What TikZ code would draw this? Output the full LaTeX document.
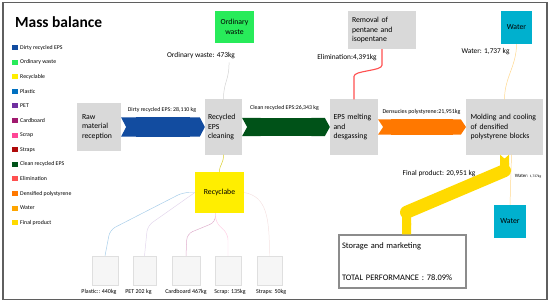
\documentclass[tikz,border=0pt]{standalone}
\usepackage{fontspec}
\setmainfont{Carlito}
\usetikzlibrary{arrows.meta,positioning,calc}
\definecolor{boxgray}{RGB}{217,217,217}
\definecolor{framegray}{RGB}{95,95,95}
\definecolor{dirty}{RGB}{18,76,160}
\definecolor{ordinary}{RGB}{40,235,90}
\definecolor{recycl}{RGB}{255,238,0}
\definecolor{plastic}{RGB}{0,112,192}
\definecolor{pet}{RGB}{112,48,160}
\definecolor{cardboard}{RGB}{160,25,110}
\definecolor{scrap}{RGB}{255,70,150}
\definecolor{straps}{RGB}{175,10,10}
\definecolor{cleaneps}{RGB}{0,82,24}
\definecolor{elim}{RGB}{255,80,80}
\definecolor{dense}{RGB}{255,120,0}
\definecolor{water}{RGB}{255,165,0}
\definecolor{final}{RGB}{255,218,0}
\definecolor{cyanbox}{RGB}{0,176,206}
\tikzset{
  headline/.style={font=\fontsize{22}{26}\selectfont\bfseries,inner sep=0pt},
  legkey/.style={fill=#1,minimum width=3mm,minimum height=2.5mm,inner sep=0pt},
  legtext/.style={font=\fontsize{8.3}{10}\selectfont,inner sep=0pt},
  stage/.style={fill=boxgray,text width=#1,inner xsep=2.5mm,minimum height=27.5mm,
    align=left,font=\fontsize{11}{13.5}\selectfont},
  colbox/.style={fill=#1,minimum width=15.5mm,minimum height=16.5mm,align=center,
    font=\fontsize{11}{13.5}\selectfont},
  sbox/.style={fill=gray!7,draw=gray!25,minimum width=13mm,minimum height=14.5mm},
  flowlab/.style={font=\fontsize{8.3}{10}\selectfont,inner sep=0pt},
  biglab/.style={font=\fontsize{10.5}{12}\selectfont,inner sep=0pt},
  band/.style={draw=#1,line width=9.5mm,
    arrows={Triangle Cap[reversed,length=2.5mm]-Triangle Cap[length=2.5mm]}},
  thinlink/.style={draw=#1,line width=0.7pt,rounded corners=3mm},
  storebox/.style={draw=gray!90,line width=2pt,fill=white,text width=60.5mm,inner xsep=1.5mm,
    minimum height=26.5mm,align=left,font=\fontsize{12}{14.4}\selectfont},
}
\begin{document}
\begin{tikzpicture}[x=0.5mm,y=-0.5mm]
  \useasboundingbox (0,0) rectangle (550,304);
  \draw[framegray,line width=2pt] (3,2.5) rectangle (547,299.5);
  \node[headline,anchor=west] (title) at (15,22) {Mass balance};
  % legend
  \foreach \txt/\col [count=\i] in {Dirty recycled EPS/dirty,Ordinary waste/ordinary,
      Recyclable/recycl,Plastic/plastic,PET/pet,Cardboard/cardboard,Scrap/scrap,Straps/straps,
      Clean recycled EPS/cleaneps,Elimination/elim,Densified polystyrene/dense,Water/water,
      Final product/final}{
    \node[legkey=\col] (k\i) at (14.5,{47.5+14.6*(\i-1)}) {};
    \node[legtext,right=1.2mm of k\i] (t\i) {\txt};
  }
  % process stages
  \node[stage=17mm,minimum height=24mm] (raw) at (99,127) {Raw\\material\\reception};
  \node[stage=15.5mm,inner xsep=1.5mm] (clean) at (223.5,127) {Recycled\\EPS\\cleaning};
  \node[stage=20.5mm,inner xsep=1.75mm] (melt) at (354,127) {EPS\ melting\\and\\desgassing};
  \node[stage=34mm,inner xsep=2.2mm] (mold) at (504.5,127) {Molding and cooling\\of densified\\polystyrene blocks};
  \node[colbox=ordinary,minimum width=19.5mm,minimum height=16mm] (waste) at (234.5,27) {Ordinary\\waste};
  \node[stage=30mm,inner xsep=2mm,minimum height=19mm] (remove) at (382,30) {Removal of\\pentane and\\isopentane};
  \node[colbox=cyanbox] (wtop) at (516.5,27.5) {Water};
  \node[colbox=recycl,minimum width=24.5mm,minimum height=20.5mm] (rec) at (219.5,192.5) {Recyclabe};
  \node[colbox=cyanbox,minimum width=16mm] (wbot) at (510,221.5) {Water};
  \node[storebox] (store) at (402.5,261.5) {Storage and marketing\\[11mm]TOTAL PERFORMANCE : 78.09\%};
  % sorted fractions
  \node[sbox] (plastic) at (105,270.5) {};
  \node[sbox,minimum width=11.5mm] (pet) at (144.5,270.5) {};
  \node[sbox,minimum width=14mm] (card) at (186,270.5) {};
  \node[sbox] (scrap) at (228,270.5) {};
  \node[sbox,minimum width=12.5mm] (straps) at (269.5,270.5) {};
  \node[flowlab,font=\fontsize{8.5}{10}\selectfont,below=2mm of plastic,xshift=-3mm] (lplastic) {Plastic:: 440kg};
  \node[flowlab,font=\fontsize{8.5}{10}\selectfont,below=2mm of pet,xshift=-3mm] (lpet) {PET 202 kg};
  \node[flowlab,font=\fontsize{8.5}{10}\selectfont,below=2mm of card] (lcard) {Cardboard 467kg};
  \node[flowlab,font=\fontsize{8.5}{10}\selectfont,below=2mm of scrap,xshift=1mm] (lscrap) {Scrap: 135kg};
  \node[flowlab,font=\fontsize{8.5}{10}\selectfont,below=2mm of straps,xshift=0.8mm] (lstraps) {Straps: 50kg};
  % flow labels
  \node[flowlab] (ldirty) at (162,110) {Dirty recycled EPS: 28,110 kg};
  \node[flowlab] (lclean) at (284.5,108) {Clean recycled EPS:26,343 kg};
  \node[flowlab,font=\fontsize{8.5}{10}\selectfont] (ldense) at (421.5,112) {Densucies polystyrene:21,951kg};
  \node[biglab] (lwaste) at (201,56) {Ordinary waste: 473kg};
  \node[biglab] (lelim) at (347,58) {Elimination:4,391kg};
  \node[biglab] (lwater) at (485.5,52) {Water: 1,737 kg};
  \node[biglab] (lfinal) at (439,174) {Final product: 20,951 kg};
  \node[flowlab,font=\fontsize{7}{8}\selectfont] (lwater2) at (528,176) {Water: {\fontsize{5}{6}\selectfont 1,737kg}};
  % thin streams
  \draw[thinlink=gray!35] ($(lwaste.south east)+(-6,3)$) .. controls ($(lwaste.south east)+(-6,22)$) and ($(clean.north)+(0,-18)$) .. (clean.north);
  \draw[thinlink=elim,line width=1.6pt] (remove.south) -- ++(0,10)
    .. controls ($(remove.south)+(0,22)$) and ($(melt.north)+(0,-29)$) .. ($(melt.north)+(0,-17)$) -- (melt.north);
  \draw[thinlink=water!45] (wtop.south) .. controls ($(wtop.south)+(0,22)$) and ($(mold.north)+(0,-22)$) .. (mold.north);
  \draw[thinlink=water!45] ($(mold.south)+(7,0)$) .. controls ($(mold.south)+(7,25)$) and ($(wbot.north)+(0,-25)$) .. (wbot.north);
  \draw[thinlink=recycl!70!gray] (clean.south) .. controls ($(clean.south)+(0,10)$) and ($(rec.north)+(0,-8)$) .. (rec.north);
  \draw[thinlink=plastic!35] (rec.west) -- ($(rec.west)+(-12,0)$) -- ($(plastic.north)+(5,-26)$) -- (plastic.north);
  \draw[thinlink=pet!20] (rec.west) -- ($(pet.north)+(3,-30)$) -- (pet.north);
  \draw[thinlink=cardboard!35] ($(rec.south)+(-4,0)$) -- ++(0,9) -- ($(card.north)+(1,-22)$) -- (card.north);
  \draw[thinlink=scrap!25] ($(rec.south)+(-4,0)$) -- ++(0,9) -- ($(scrap.north)+(0,-22)$) -- (scrap.north);
  \draw[thinlink=straps!12] (rec.east) .. controls ($(rec.east)+(22,4)$) and ($(straps.north)+(0,-40)$) .. (straps.north);
  % main bands
  \draw[band=dirty] (raw.east) -- (clean.west);
  \draw[band=cleaneps,line width=9mm] (clean.east) -- (melt.west);
  \draw[band=dense,line width=7.5mm] (melt.east) -- (mold.west);
  \coordinate (fbend1) at ($(mold.south)+(0,16)$);
  \coordinate (fbend2) at ($(store.north)+(4,-22)$);
  \draw[band=final,line width=4.5mm,line join=round,
    arrows={Triangle Cap[reversed,length=2mm]-Butt Cap}]
    (mold.south) -- (fbend1) -- (fbend2) -- ($(store.north)+(4,0)$);
  \draw[final,line width=6.5mm,line cap=round] (fbend1) -- (fbend2);
\end{tikzpicture}
\end{document}
